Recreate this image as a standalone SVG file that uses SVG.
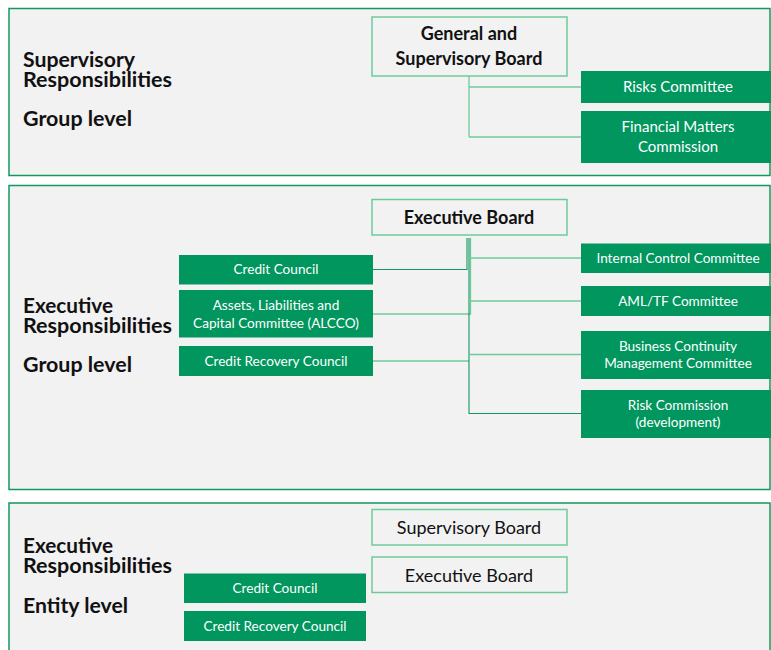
<svg xmlns="http://www.w3.org/2000/svg" width="771" height="650" viewBox="0 0 771 650">
<style>
.panel{fill:#F2F2F2;stroke:#10995F;stroke-width:1.5}
.wbox{fill:#F2F2F2;stroke:#6DCB9B;stroke-width:1.5}
.gbox{fill:#00965E}
.head{font-family:Lato,"Liberation Sans",sans-serif;font-weight:bold;font-size:20px;fill:#111}
.bt{font-family:Lato,"Liberation Sans",sans-serif;font-weight:bold;font-size:18px;fill:#111;text-anchor:middle}
.rt{font-family:Lato,"Liberation Sans",sans-serif;font-size:18px;fill:#111;text-anchor:middle}
.gt{font-family:Lato,"Liberation Sans",sans-serif;font-size:13.6px;fill:#fff;text-anchor:middle}
.gt2{font-family:Lato,"Liberation Sans",sans-serif;font-size:15px;fill:#fff;text-anchor:middle}
.c1{fill:none;stroke:#6DCB9B;stroke-width:1.3}
.c2{fill:none;stroke:#10995F;stroke-width:1.1}
</style>
<rect width="771" height="650" fill="#fff"/>
<g id="panel-supervisory">
<rect class="panel" x="9" y="8.5" width="761" height="167"/>
<text class="head" x="23" y="67" textLength="112" lengthAdjust="spacingAndGlyphs">Supervisory</text>
<text class="head" x="23" y="87" textLength="149" lengthAdjust="spacingAndGlyphs">Responsibilities</text>
<text class="head" x="23" y="126" textLength="109" lengthAdjust="spacingAndGlyphs">Group level</text>
</g>
<g id="panel-exec-group">
<rect class="panel" x="9" y="185.5" width="761" height="304"/>
<text class="head" x="23" y="313" textLength="90" lengthAdjust="spacingAndGlyphs">Executive</text>
<text class="head" x="23" y="333" textLength="149" lengthAdjust="spacingAndGlyphs">Responsibilities</text>
<text class="head" x="23" y="372" textLength="109" lengthAdjust="spacingAndGlyphs">Group level</text>
</g>
<g id="panel-exec-entity">
<rect class="panel" x="9" y="503" width="761" height="160"/>
<text class="head" x="23" y="553" textLength="90" lengthAdjust="spacingAndGlyphs">Executive</text>
<text class="head" x="23" y="573" textLength="149" lengthAdjust="spacingAndGlyphs">Responsibilities</text>
<text class="head" x="23" y="613" textLength="105" lengthAdjust="spacingAndGlyphs">Entity level</text>
</g>
<g id="connectors">
<path class="c1" d="M469 76V137M469 87H581M469 137H581"/>
<path class="c2" d="M373 269.5H467V238"/>
<path class="c1" d="M373 314H470.5V238"/>
<path class="c1" d="M373 361H469"/>
<path class="c2" d="M469 238V413.5H581"/>
<path class="c1" d="M469 258H581M469 301H581M469 354.5H581"/>
</g>
<g id="general-supervisory-board">
<rect class="wbox" x="372" y="17" width="195" height="59"/>
<text class="bt" x="469" y="40">General and</text>
<text class="bt" x="469" y="65">Supervisory Board</text>
</g>
<g id="risks-committee">
<rect class="gbox" x="581" y="71" width="195" height="32"/>
<text class="gt2" x="678" y="92">Risks Committee</text>
</g>
<g id="financial-matters-commission">
<rect class="gbox" x="581" y="111" width="195" height="52"/>
<text class="gt2" x="678" y="132">Financial Matters</text>
<text class="gt2" x="678" y="152">Commission</text>
</g>
<g id="executive-board-group">
<rect class="wbox" x="372" y="199.5" width="195" height="35.5"/>
<text class="bt" x="469" y="223.5">Executive Board</text>
</g>
<g id="credit-council-group">
<rect class="gbox" x="179" y="255" width="194" height="29.5"/>
<text class="gt" x="276" y="274">Credit Council</text>
</g>
<g id="alcco">
<rect class="gbox" x="179" y="290" width="194" height="47.5"/>
<text class="gt" x="276" y="310">Assets, Liabilities and</text>
<text class="gt" x="276" y="328">Capital Committee (ALCCO)</text>
</g>
<g id="credit-recovery-council-group">
<rect class="gbox" x="179" y="346" width="194" height="30"/>
<text class="gt" x="276" y="366">Credit Recovery Council</text>
</g>
<g id="internal-control-committee">
<rect class="gbox" x="581" y="243.5" width="195" height="29.5"/>
<text class="gt" x="678" y="263">Internal Control Committee</text>
</g>
<g id="aml-tf-committee">
<rect class="gbox" x="581" y="286" width="195" height="30"/>
<text class="gt" x="678" y="306">AML/TF Committee</text>
</g>
<g id="business-continuity">
<rect class="gbox" x="581" y="331" width="195" height="48"/>
<text class="gt" x="678" y="351">Business Continuity</text>
<text class="gt" x="678" y="368">Management Committee</text>
</g>
<g id="risk-commission">
<rect class="gbox" x="581" y="390" width="195" height="48"/>
<text class="gt" x="678" y="410">Risk Commission</text>
<text class="gt" x="678" y="427">(development)</text>
</g>
<g id="supervisory-board-entity">
<rect class="wbox" x="372" y="509.5" width="195" height="35.5"/>
<text class="rt" x="469" y="533.5">Supervisory Board</text>
</g>
<g id="executive-board-entity">
<rect class="wbox" x="372" y="557" width="195" height="35.5"/>
<text class="rt" x="469" y="582">Executive Board</text>
</g>
<g id="credit-council-entity">
<rect class="gbox" x="184" y="573.5" width="182" height="29.5"/>
<text class="gt" x="275" y="593">Credit Council</text>
</g>
<g id="credit-recovery-council-entity">
<rect class="gbox" x="184" y="611" width="182" height="30"/>
<text class="gt" x="275" y="631">Credit Recovery Council</text>
</g>
</svg>
